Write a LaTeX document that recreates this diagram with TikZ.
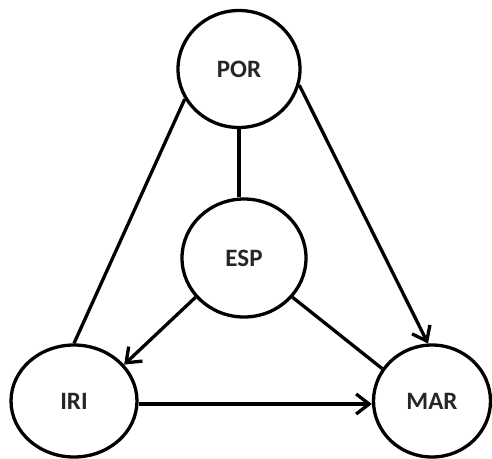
\documentclass[tikz,border=0pt]{standalone}
\usepackage{fontspec}
\setmainfont{Carlito}
\usetikzlibrary{shapes.geometric,arrows.meta}
\begin{document}
\begin{tikzpicture}[x=1pt,y=-1pt,
  party/.style={draw,ellipse,line width=3.3pt,fill=white,inner sep=0pt,
    font=\bfseries\fontsize{25}{25}\selectfont,text=black!85},
  link/.style={line width=3.3pt},
  flow/.style={line width=3.3pt,-{Straight Barb[length=13pt,width=20pt,line width=3.3pt]}}]
  \useasboundingbox (0,0) rectangle (492,458);
  \node[party,minimum width=122pt,minimum height=117pt] (por) at (239,69) {POR};
  \node[party,minimum width=124pt,minimum height=118pt] (esp) at (244,258) {ESP};
  \node[party,minimum width=126pt,minimum height=112pt] (iri) at (74,401) {IRI};
  \node[party,minimum width=117pt,minimum height=112pt] (mar) at (432,401) {MAR};
  \draw[link] (por.209) -- (iri.north);
  \draw[link] (por.south) -- (por.south |- esp.north);
  \draw[flow] (por.345) -- (mar.94);
  \draw[flow] (esp.219) -- (iri.36);
  \draw[link] (esp.321) -- (mar.147);
  \draw[flow] ([yshift=-3pt]iri.east) -- ([yshift=-3pt]mar.west);
\end{tikzpicture}
\end{document}
